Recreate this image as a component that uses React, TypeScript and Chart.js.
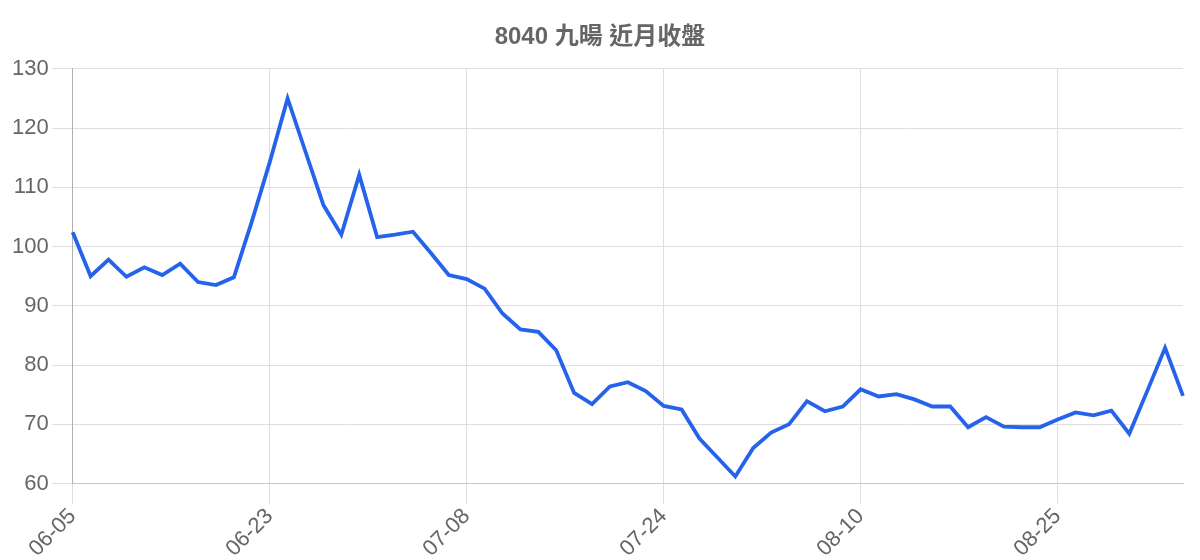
import React, { useEffect, useRef } from "react";
import { Chart, registerables } from "chart.js";

Chart.register(...registerables);

const TITLE = "8040 九暘 近月收盤";

const dates: string[] = [
  "06-05", "06-06", "06-09", "06-10", "06-11", "06-12", "06-13", "06-16", "06-17", "06-18", "06-20",
  "06-23", "06-24", "06-25", "06-26", "06-27", "06-30", "07-01", "07-02", "07-03", "07-04", "07-07",
  "07-08", "07-09", "07-10", "07-11", "07-14", "07-15", "07-16", "07-17", "07-18", "07-21", "07-22",
  "07-24", "07-25", "07-28", "07-29", "07-30", "07-31", "08-01", "08-04", "08-05", "08-06", "08-07",
  "08-10", "08-11", "08-12", "08-13", "08-14", "08-15", "08-18", "08-19", "08-20", "08-21", "08-22",
  "08-25", "08-26", "08-27", "08-28", "08-29", "09-01", "09-02", "09-03",
];

const closes: number[] = [
  102.4, 95.0, 97.8, 94.9, 96.5, 95.2, 97.1, 94.0, 93.5, 94.8, 104.2,
  114.2, 125.0, 116.0, 107.0, 102.0, 112.1, 101.6, 102.0, 102.5, 98.9, 95.2,
  94.5, 92.9, 88.7, 86.0, 85.6, 82.5, 75.3, 73.4, 76.4, 77.1, 75.6,
  73.1, 72.5, 67.6, 64.4, 61.2, 66.0, 68.6, 70.0, 73.9, 72.2, 73.0,
  75.9, 74.7, 75.1, 74.2, 73.0, 73.0, 69.5, 71.2, 69.6, 69.5, 69.5,
  70.8, 72.0, 71.5, 72.3, 68.4, 75.6, 82.9, 74.8,
];

const yMin = 60;
const yMax = 130;
const yStep = 10;

const FONT = "'Liberation Sans', 'Noto Sans CJK TC', Arial, sans-serif";

export default function App() {
  const ref = useRef<HTMLCanvasElement | null>(null);

  useEffect(() => {
    if (!ref.current) return;
    const chart = new Chart(ref.current, {
      type: "line",
      data: {
        labels: dates,
        datasets: [
          {
            label: TITLE,
            data: closes,
            borderColor: "#2563eb",
            backgroundColor: "#2563eb",
            borderWidth: 3.8,
            pointRadius: 0,
            pointHoverRadius: 0,
            tension: 0,
            fill: false,
          },
        ],
      },
      options: {
        animation: false,
        responsive: true,
        maintainAspectRatio: false,
        layout: { padding: 0 },
        plugins: {
          legend: { display: false },
          tooltip: { enabled: false },
          title: {
            display: true,
            text: TITLE,
            color: "#666",
            font: { family: FONT, size: 24, weight: "bold" },
            padding: { top: 15, bottom: 17 },
          },
        },
        scales: {
          x: {
            afterFit: (scale: any) => {
              scale.paddingRight = 9;
            },
            grid: { color: "#dedede", tickLength: 20, lineWidth: 1 },
            border: { color: "#c8c8c8" },
            ticks: {
              color: "#666",
              font: { family: FONT, size: 22 },
              maxRotation: 45,
              minRotation: 45,
              autoSkip: true,
              maxTicksLimit: 6,
              padding: 0,
            },
          },
          y: {
            min: yMin,
            max: yMax,
            grid: { color: "#dedede", tickLength: 20, lineWidth: 1 },
            border: { color: "#b0b0b0" },
            ticks: {
              stepSize: yStep,
              color: "#666",
              font: { family: FONT, size: 22 },
              padding: 4,
            },
          },
        },
      },
    });
    return () => chart.destroy();
  }, []);

  return (
    <div style={{ width: 1184, height: 554 }}>
      <canvas ref={ref} />
    </div>
  );
}
